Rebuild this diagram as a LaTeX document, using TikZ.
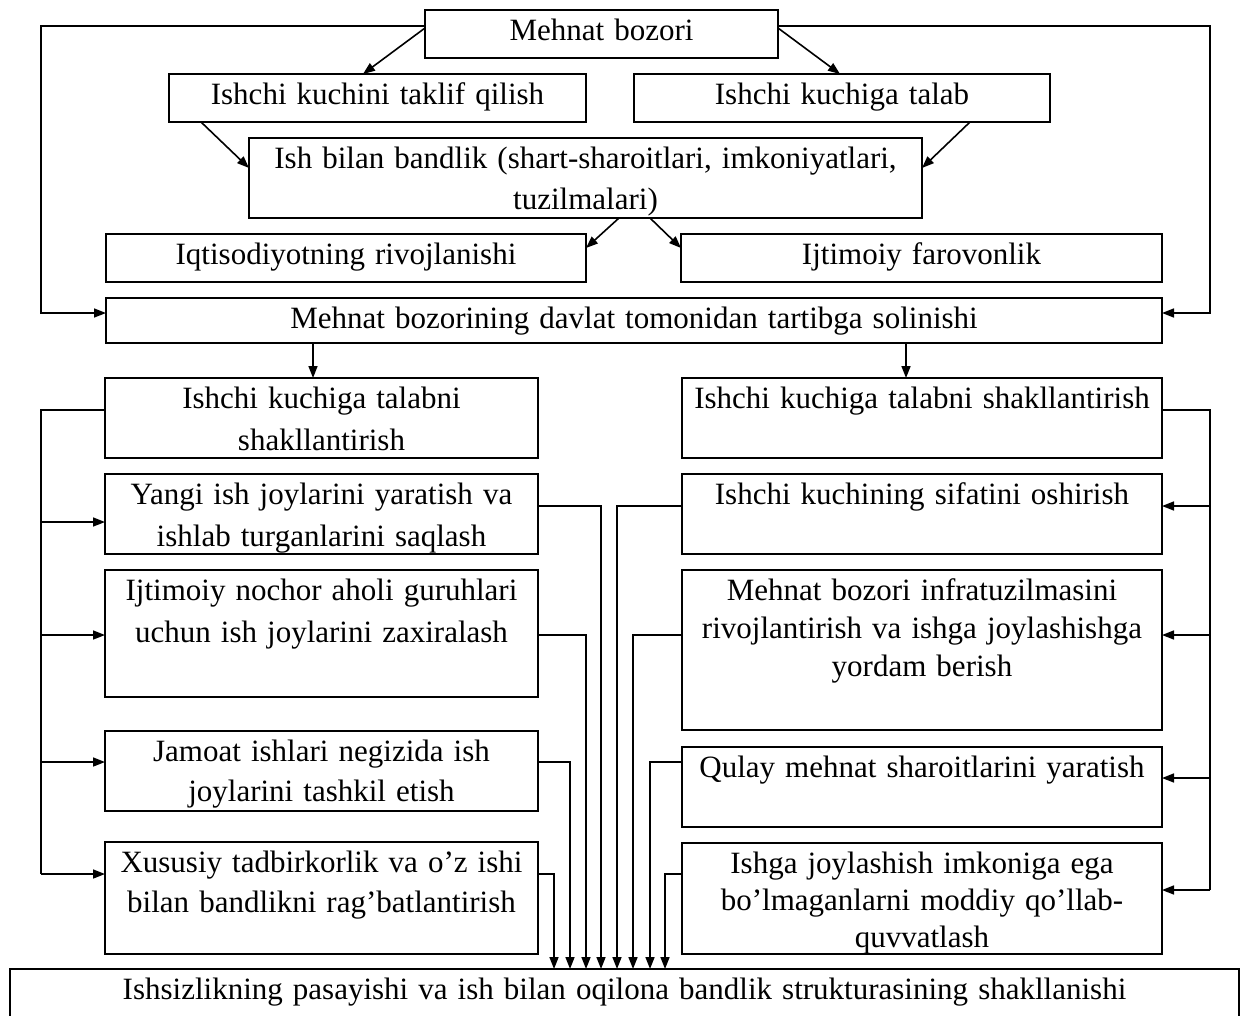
\documentclass[tikz,border=0pt]{standalone}
\usepackage{fontspec}
\setmainfont{Liberation Serif}[WordSpace=1.3]
\usetikzlibrary{arrows.meta}
\newcommand{\bt}[4][40pt]{\parbox[c][#3][t]{#2}{\centering\fontsize{31pt}{#1}\selectfont\rule{0pt}{30pt}#4\par}}
\begin{document}
\begin{tikzpicture}[x=1pt,y=-1pt,
  box/.style={draw, line width=1.8pt, inner sep=0pt, outer sep=0pt, anchor=north west},
  conn/.style={line width=1.6pt},
  arr/.style={conn, -{Triangle[length=12pt,width=9pt]}}]
\useasboundingbox (0,0) rectangle (1241,1015);
\clip (0,0) rectangle (1241,1015);
\node[box] (bozor) at (425,10) {\bt{353pt}{48pt}{Mehnat bozori}};
\node[box] (taklif) at (169,74) {\bt{417pt}{48pt}{Ishchi kuchini taklif qilish}};
\node[box] (talab) at (634,74) {\bt{416pt}{48pt}{Ishchi kuchiga talab}};
\node[box] (bandlik) at (249,138) {\bt[41pt]{673pt}{80pt}{Ish bilan bandlik (shart-sharoitlari, imkoniyatlari,\\ tuzilmalari)}};
\node[box] (iqtisod) at (106,234) {\bt{480pt}{48pt}{Iqtisodiyotning rivojlanishi}};
\node[box] (farov) at (681,234) {\bt{481pt}{48pt}{Ijtimoiy farovonlik}};
\node[box] (davlat) at (106,298) {\bt{1056pt}{45pt}{Mehnat bozorining davlat tomonidan tartibga solinishi}};
\node[box] (L1) at (105,378) {\bt[42pt]{433pt}{80pt}{Ishchi kuchiga talabni\\shakllantirish}};
\node[box] (L2) at (105,474) {\bt[42pt]{433pt}{80pt}{Yangi ish joylarini yaratish va\\ishlab turganlarini saqlash}};
\node[box] (L3) at (105,570) {\bt[42pt]{433pt}{127pt}{Ijtimoiy nochor aholi guruhlari\\uchun ish joylarini zaxiralash}};
\node[box] (L4) at (105,731) {\bt{433pt}{80pt}{Jamoat ishlari negizida ish\\joylarini tashkil etish}};
\node[box] (L5) at (105,842) {\bt{433pt}{112pt}{Xususiy tadbirkorlik va o’z ishi\\bilan bandlikni rag’batlantirish}};
\node[box] (R1) at (682,378) {\bt{480pt}{80pt}{Ishchi kuchiga talabni shakllantirish}};
\node[box] (R2) at (682,474) {\bt{480pt}{80pt}{Ishchi kuchining sifatini oshirish}};
\node[box] (R3) at (682,570) {\bt[38pt]{480pt}{160pt}{Mehnat bozori infratuzilmasini\\rivojlantirish va ishga joylashishga\\yordam berish}};
\node[box] (R4) at (682,747) {\bt{480pt}{80pt}{Qulay mehnat sharoitlarini yaratish}};
\node[box] (R5) at (682,843) {\bt[37pt]{480pt}{111pt}{Ishga joylashish imkoniga ega\\bo’lmaganlarni moddiy qo’llab-\\quvvatlash}};
\node[box] (out) at (10,969) {\bt{1229pt}{70pt}{Ishsizlikning pasayishi va ish bilan oqilona bandlik strukturasining shakllanishi}};
% top feedback lines
\draw[arr] (bozor.west |- 0,26) -- (41,26) -- (41,313) -- (davlat.west |- 0,313);
\draw[arr] (bozor.east |- 0,26) -- (1210,26) -- (1210,313) -- (davlat.east |- 0,313);
% diagonals
\draw[arr] (bozor.west |- 0,28) -- (363,0 |- taklif.north);
\draw[arr] (bozor.east |- 0,28) -- (840,0 |- talab.north);
\draw[arr] (201,0 |- taklif.south) -- (bandlik.west |- 0,168);
\draw[arr] (970,0 |- talab.south) -- (bandlik.east |- 0,168);
\draw[arr] (619,0 |- bandlik.south) -- (iqtisod.east |- 0,248);
\draw[arr] (650,0 |- bandlik.south) -- (farov.west |- 0,248);
\draw[arr] (313,0 |- davlat.south) -- (313,0 |- L1.north);
\draw[arr] (906,0 |- davlat.south) -- (906,0 |- R1.north);
% trunks
\draw[conn] (L1.west |- 0,410) -- (41,410) -- (41,874);
\foreach \n/\yy in {L2/522, L3/635, L4/762, L5/874}
  \draw[arr] (41,\yy) -- (\n.west |- 0,\yy);
\draw[conn] (R1.east |- 0,410) -- (1210,410) -- (1210,890);
\foreach \n/\yy in {R2/506, R3/635, R4/778, R5/890}
  \draw[arr] (1210,\yy) -- (\n.east |- 0,\yy);
% outputs
\foreach \n/\yy/\p in {L2/506/601, L3/635/586, L4/762/570, L5/874/554}
  \draw[arr] (\n.east |- 0,\yy) -- (\p,\yy) -- (\p,0 |- out.north);
\foreach \n/\yy/\p in {R2/506/617, R3/635/633, R4/762/650, R5/874/665}
  \draw[arr] (\n.west |- 0,\yy) -- (\p,\yy) -- (\p,0 |- out.north);
\end{tikzpicture}
\end{document}
